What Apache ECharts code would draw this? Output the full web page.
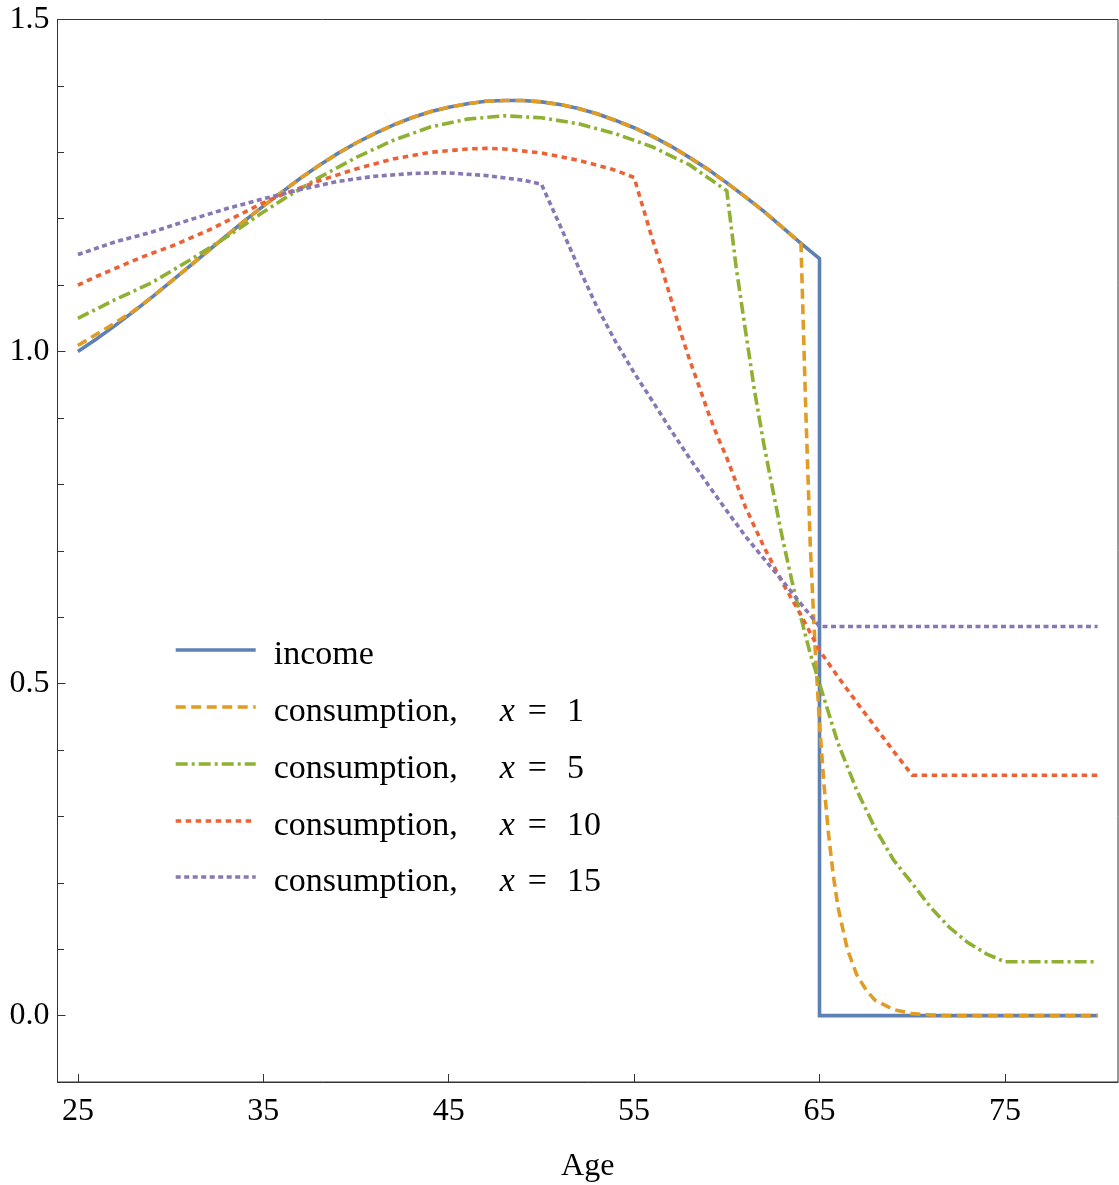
<!DOCTYPE html>
<html>
<head>
<meta charset="utf-8">
<script src="https://cdn.jsdelivr.net/npm/echarts@6/dist/echarts.min.js"></script>
<style>html,body{margin:0;padding:0;background:#fff}#c{width:1119px;height:1185px}</style>
</head>
<body>
<div id="c"></div>
<script>
// ---- data ----
const xTicks = [25, 35, 45, 55, 65, 75];
const yTicks = [0, 0.5, 1.0, 1.5];
const yMinorTicks = [-0.1, 0.1, 0.2, 0.3, 0.4, 0.6, 0.7, 0.8, 0.9, 1.1, 1.2, 1.3, 1.4];

const incomeAge = [25,26,27,28,29,30,31,32,33,34,35,36,37,38,39,40,41,42,43,44,45,46,47,48,49,50,51,52,53,54,55,56,57,58,59,60,61,62,63,64,65,65,80];
const incomeVal = [1.000,1.019,1.039,1.060,1.082,1.105,1.128,1.151,1.174,1.197,1.219,1.240,1.261,1.280,1.298,1.314,1.328,1.341,1.352,1.361,1.368,1.373,1.377,1.378,1.378,1.376,1.372,1.366,1.358,1.348,1.337,1.324,1.309,1.292,1.274,1.254,1.233,1.211,1.187,1.163,1.140,0,0];

const c1Age = [25,26,27,28,29,30,31,32,33,34,35,36,37,38,39,40,41,42,43,44,45,46,47,48,49,50,51,52,53,54,55,56,57,58,59,60,61,62,63,64,64.25,64.5,64.75,65,65.25,65.5,65.75,66,66.5,67,67.5,68,69,70,71,72,80];
const c1Val = [1.009,1.026,1.043,1.061,1.082,1.105,1.128,1.151,1.174,1.197,1.219,1.240,1.261,1.280,1.298,1.314,1.328,1.341,1.352,1.361,1.368,1.373,1.377,1.378,1.378,1.376,1.372,1.366,1.358,1.348,1.337,1.324,1.309,1.292,1.274,1.254,1.233,1.211,1.187,1.163,0.920,0.710,0.560,0.440,0.345,0.270,0.210,0.163,0.100,0.062,0.039,0.023,0.009,0.003,0.001,0,0];

const c5Age = [25,27,29,31,33,35,36,38,40,42,44,46,48,50,52,54,56,58,60,60.5,61,61.5,62,62.5,63,63.5,64,64.5,65,65.5,66,67,68,69,70,71,72,73,74,75,80];
const c5Val = [1.050,1.078,1.104,1.137,1.172,1.210,1.228,1.262,1.292,1.318,1.338,1.350,1.355,1.352,1.343,1.328,1.308,1.281,1.242,1.128,1.033,0.940,0.860,0.789,0.719,0.656,0.599,0.545,0.500,0.455,0.410,0.340,0.282,0.234,0.199,0.163,0.133,0.110,0.093,0.081,0.081];

const c10Age = [25,26,27,28,29,30,31,32,33,34,35,36,38,40,42,44,46,47,48,50,52,54,55,55.5,56,56.5,57,57.5,58,58.5,59,59.5,60,61,62,63,64,65,66,67,68,69,70,80];
const c10Val = [1.100,1.113,1.125,1.137,1.148,1.158,1.170,1.182,1.196,1.210,1.224,1.236,1.257,1.275,1.290,1.300,1.305,1.306,1.305,1.299,1.288,1.273,1.262,1.215,1.168,1.125,1.078,1.030,0.987,0.948,0.908,0.872,0.840,0.766,0.706,0.652,0.603,0.550,0.510,0.472,0.435,0.398,0.362,0.362];

const c15Age = [25,27,29,31,33,35,37,39,41,43,44,45,47,49,50,51,52,53,54,55,56,57,58,59,60,61,62,63,64,65,80];
const c15Val = [1.146,1.165,1.180,1.198,1.215,1.230,1.244,1.256,1.264,1.268,1.269,1.269,1.265,1.258,1.252,1.190,1.127,1.067,1.015,0.968,0.925,0.881,0.839,0.799,0.760,0.722,0.688,0.655,0.620,0.586,0.586];

const seriesNames = ['income', 'consumption, x = 1', 'consumption, x = 5', 'consumption, x = 10', 'consumption, x = 15'];
const legendNums = ['', '1', '5', '10', '15'];
// ------------------------------------

const FONT = 'Liberation Serif';
const colors = ['#5E81B5', '#E19C24', '#8FB032', '#EB6235', '#8778B3'];
const dashes = ['solid', [10, 5.5], [12, 4, 3, 4], [5.5, 4.5], [5, 3.5]];
const widths = [3.6, 3.6, 3.6, 3.6, 3.6];

function pairs(a, v) { return a.map((x, i) => [x, v[i]]); }
const allData = [
  pairs(incomeAge, incomeVal),
  pairs(c1Age, c1Val),
  pairs(c5Age, c5Val),
  pairs(c10Age, c10Val),
  pairs(c15Age, c15Val)
];

const legendLineY = [650, 707, 764, 821, 877];

const legends = seriesNames.map((n, i) => ({
  data: [n],
  left: 174,
  top: legendLineY[i] - 12,
  padding: 0,
  itemWidth: 80,
  itemHeight: 14,
  selectedMode: false,
  itemStyle: { color: 'rgba(0,0,0,0)', borderColor: 'rgba(0,0,0,0)', borderWidth: 0, opacity: 0 },
  lineStyle: { width: 3.4 },
  textStyle: {
    fontFamily: FONT,
    fontSize: 34,
    color: '#000',
    padding: [10, 0, 0, 13],
    rich: {
      a: { fontFamily: FONT, fontSize: 34, color: '#000', width: 226 },
      i: { fontFamily: FONT, fontSize: 34, color: '#000', fontStyle: 'italic' },
      e: { fontFamily: FONT, fontSize: 34, color: '#000', padding: [0, 20, 0, 13] },
      d: { fontFamily: FONT, fontSize: 34, color: '#000' }
    }
  },
  formatter: function (name) {
    const k = seriesNames.indexOf(name);
    if (k === 0) return name;
    return '{a|consumption,}{i|x}{e|=}{d|' + legendNums[k] + '}';
  }
}));

const option = {
  animation: false,
  backgroundColor: '#fff',
  grid: {
    left: 57.5, right: 1, top: 19.5, bottom: 103,
    outerBoundsMode: 'none',
    containLabel: false,
    show: true, borderColor: '#333', borderWidth: 1, backgroundColor: 'transparent'
  },
  legend: legends,
  xAxis: {
    type: 'value', min: 23.9, max: 81.1,
    name: 'Age', nameLocation: 'middle', nameGap: 69,
    nameTextStyle: { fontFamily: FONT, fontSize: 32, color: '#000' },
    axisLine: { show: true, onZero: false, lineStyle: { color: '#333', width: 1 } },
    axisTick: { show: true, inside: true, length: 8, customValues: xTicks, lineStyle: { color: '#333' } },
    axisLabel: { customValues: xTicks, fontFamily: FONT, fontSize: 32, color: '#000', margin: 14 },
    splitLine: { show: false }
  },
  yAxis: [
    {
      type: 'value', min: -0.1, max: 1.5,
      axisLine: { show: true, onZero: false, lineStyle: { color: '#333', width: 1 } },
      axisTick: { show: true, inside: true, length: 8, customValues: yTicks, lineStyle: { color: '#333' } },
      axisLabel: { customValues: yTicks, fontFamily: FONT, fontSize: 32, color: '#000', margin: 8,
        formatter: v => Number(v).toFixed(1) },
      splitLine: { show: false }
    },
    {
      type: 'value', min: -0.1, max: 1.5, position: 'left',
      axisLine: { show: false, onZero: false },
      axisTick: { show: true, inside: true, length: 6.5, customValues: yMinorTicks, lineStyle: { color: '#333' } },
      axisLabel: { show: false },
      splitLine: { show: false }
    }
  ],
  series: seriesNames.map((n, i) => ({
    name: n,
    type: 'line',
    data: allData[i],
    yAxisIndex: 0,
    symbol: 'none',
    showSymbol: false,
    smooth: false,
    clip: true,
    color: colors[i],
    lineStyle: { color: colors[i], width: widths[i], type: dashes[i], cap: 'butt', join: 'miter' },
    emphasis: { disabled: true }
  }))
};

const chart = echarts.init(document.getElementById('c'), null, { renderer: 'canvas' });
chart.setOption(option);
</script>
</body>
</html>
